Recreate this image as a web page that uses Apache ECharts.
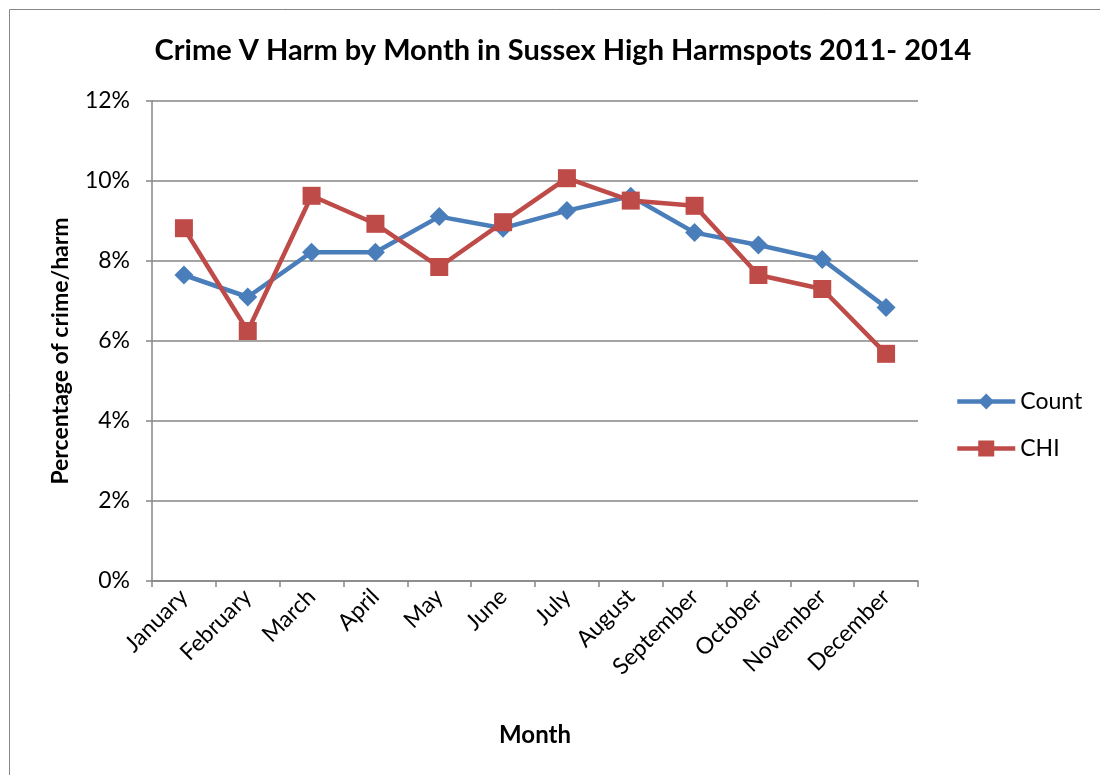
<!DOCTYPE html>
<html>
<head>
<meta charset="utf-8">
<script src="https://cdn.jsdelivr.net/npm/echarts@6/dist/echarts.min.js"></script>
<style>
  html, body { margin: 0; padding: 0; background: #fff; }
  #chart { width: 1100px; height: 775px; }
</style>
</head>
<body>
<div id="chart"></div>
<script>
// months on the x axis
const months = ["January", "February", "March", "April", "May", "June",
  "July", "August", "September", "October", "November", "December"];

// share of crime per month (%)
const countValues = [7.65, 7.1, 8.22, 8.22, 9.11, 8.82, 9.26, 9.62, 8.71, 8.4, 8.04, 6.84];
// share of harm (CHI) per month (%)
const chiValues = [8.82, 6.25, 9.63, 8.93, 7.85, 8.97, 10.07, 9.51, 9.38, 7.65, 7.3, 5.68];

const yTicks = [0, 2, 4, 6, 8, 10, 12];

const font = "Lato";
const axisGrey = "#868686";

const chart = echarts.init(document.getElementById("chart"));

const option = {
  backgroundColor: "#fff",
  animation: false,
  title: {
    text: "Crime V Harm by Month in Sussex High Harmspots 2011- 2014",
    left: 558,
    textAlign: "center",
    top: 31,
    textStyle: {
      fontFamily: font,
      fontWeight: "bold",
      fontSize: 29,
      color: "#000",
    },
  },
  graphic: [
    {
      type: "rect",
      shape: { x: 9.5, y: 9.5, width: 1200, height: 900 },
      style: { fill: "none", stroke: "#868686", lineWidth: 1 },
      silent: true,
    },
  ],
  legend: {
    orient: "vertical",
    left: 950,
    top: 385,
    itemWidth: 58,
    itemHeight: 20,
    itemGap: 24,
    lineStyle: { width: 4.5 },
    textStyle: { fontFamily: font, fontSize: 23, color: "#000" },
    data: ["Count", "CHI"],
  },
  grid: {
    left: 152,
    right: 182,
    top: 101,
    bottom: 194,
  },
  xAxis: {
    type: "category",
    data: months,
    boundaryGap: true,
    name: "Month",
    nameLocation: "middle",
    nameGap: 142,
    nameTextStyle: {
      fontFamily: font,
      fontWeight: "bold",
      fontSize: 24,
      color: "#000",
    },
    axisLine: { lineStyle: { color: axisGrey, width: 1.5 } },
    axisTick: { show: true, length: 6, lineStyle: { color: axisGrey, width: 1.5 } },
    axisLabel: {
      rotate: 45,
      margin: 12,
      fontFamily: font,
      fontSize: 23,
      color: "#000",
    },
    splitLine: { show: false },
  },
  yAxis: {
    type: "value",
    min: yTicks[0],
    max: yTicks[yTicks.length - 1],
    interval: 2,
    name: "Percentage of crime/harm",
    nameLocation: "middle",
    nameGap: 80,
    nameTextStyle: {
      fontFamily: font,
      fontWeight: "bold",
      fontSize: 23,
      color: "#000",
      padding: [0, 20, 0, 0],
    },
    axisLine: { show: true, lineStyle: { color: axisGrey, width: 1.5 } },
    axisTick: { show: true, length: 6, lineStyle: { color: axisGrey, width: 1.5 } },
    axisLabel: {
      margin: 22,
      fontFamily: font,
      fontSize: 23,
      color: "#000",
      formatter: "{value}%",
    },
    splitLine: { lineStyle: { color: axisGrey, width: 1.5 } },
  },
  series: [
    {
      name: "Count",
      type: "line",
      data: countValues,
      symbol: "diamond",
      symbolSize: 19,
      lineStyle: { width: 4.5, color: "#4a7ebb" },
      itemStyle: { color: "#4a7ebb" },
    },
    {
      name: "CHI",
      type: "line",
      data: chiValues,
      symbol: "rect",
      symbolSize: 18,
      lineStyle: { width: 4.5, color: "#be4b48" },
      itemStyle: { color: "#be4b48" },
      z: 3,
    },
  ],
};

chart.setOption(option);
</script>
</body>
</html>
